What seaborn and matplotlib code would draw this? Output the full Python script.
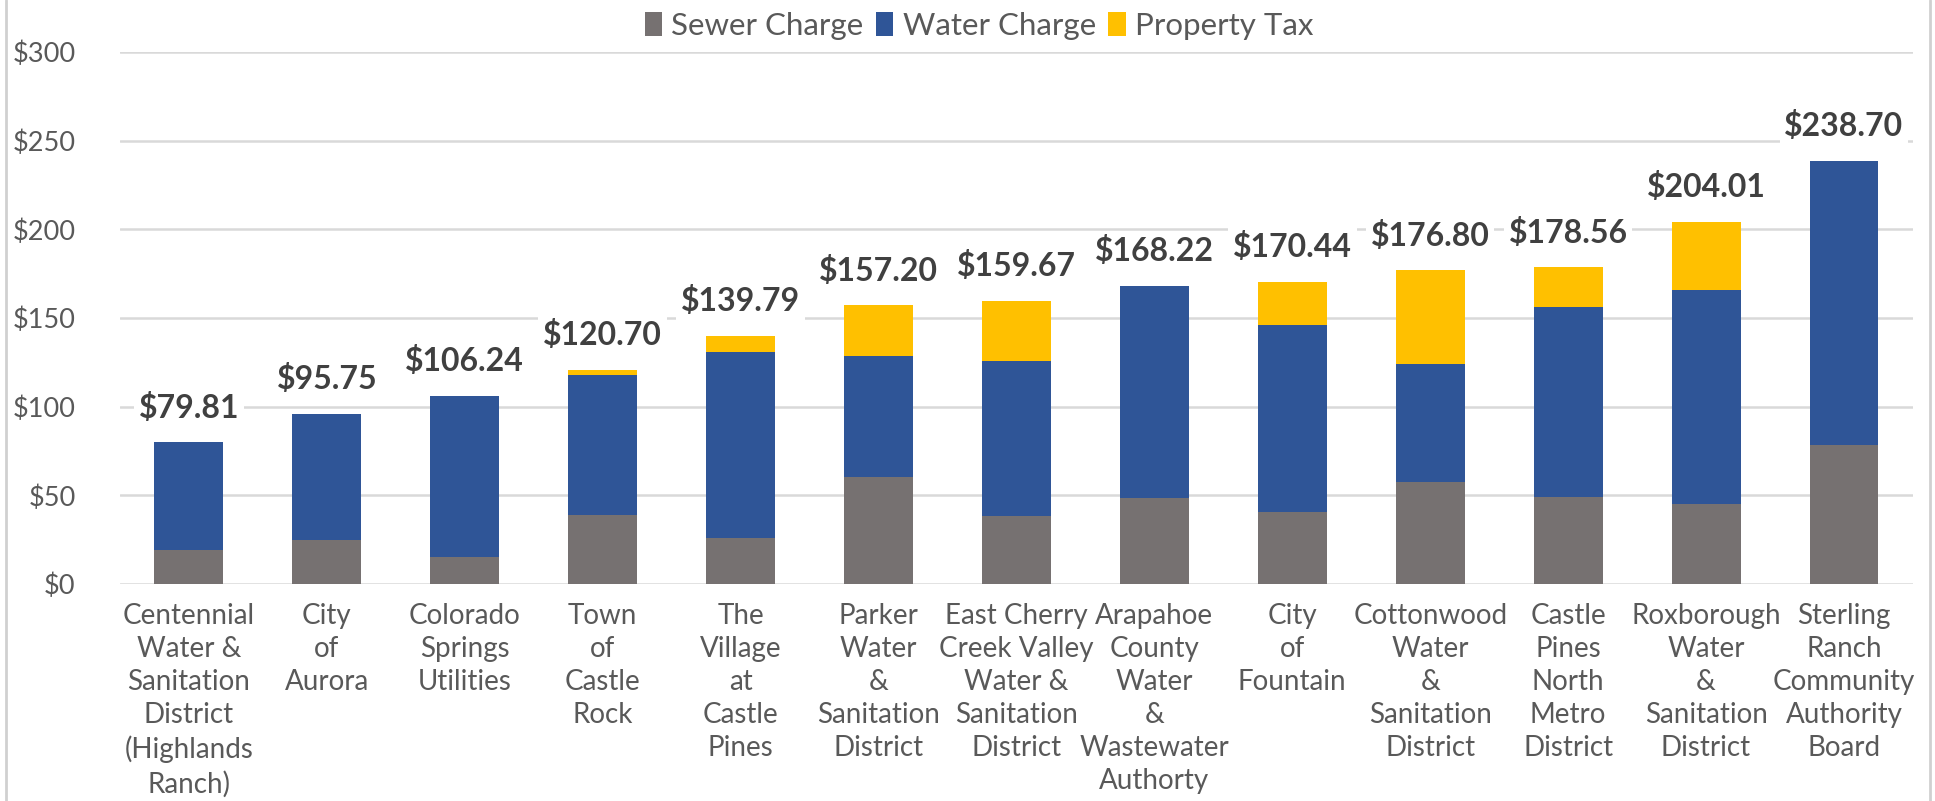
import matplotlib
matplotlib.use("Agg")
import matplotlib.pyplot as plt
import seaborn as sns
import pandas as pd
import numpy as np
from matplotlib.patches import Patch
from matplotlib.lines import Line2D

categories = [
    "Centennial\nWater &\nSanitation\nDistrict\n(Highlands\nRanch)",
    "City\nof\nAurora",
    "Colorado\nSprings\nUtilities",
    "Town\nof\nCastle\nRock",
    "The\nVillage\nat\nCastle\nPines",
    "Parker\nWater\n&\nSanitation\nDistrict",
    "East Cherry\nCreek Valley\nWater &\nSanitation\nDistrict",
    "Arapahoe\nCounty\nWater\n&\nWastewater\nAuthorty",
    "City\nof\nFountain",
    "Cottonwood\nWater\n&\nSanitation\nDistrict",
    "Castle\nPines\nNorth\nMetro\nDistrict",
    "Roxborough\nWater\n&\nSanitation\nDistrict",
    "Sterling\nRanch\nCommunity\nAuthority\nBoard",
]
sewer = [19.2, 24.6, 15.2, 38.7, 25.9, 60.2, 38.5, 48.3, 40.8, 57.5, 48.9, 45.3, 78.2]
water = [60.61, 71.15, 91.04, 79.2, 104.8, 68.4, 87.4, 119.92, 105.3, 66.6, 107.3, 120.3, 160.5]
tax = [0, 0, 0, 2.8, 9.09, 28.6, 33.77, 0, 24.34, 52.7, 22.36, 38.41, 0]
totals = [79.81, 95.75, 106.24, 120.70, 139.79, 157.20, 159.67, 168.22, 170.44, 176.80, 178.56, 204.01, 238.70]
yticks = [0, 50, 100, 150, 200, 250, 300]
series_names = ["Sewer Charge", "Water Charge", "Property Tax"]
colors = ["#767171", "#2F5597", "#FFC000"]

sns.set_theme(style="white")
plt.rcParams['font.family'] = ['Lato', 'DejaVu Sans']

df = pd.DataFrame({"cat": categories, "sewer": sewer, "water": water, "tax": tax})
df["sw"] = df["sewer"] + df["water"]
df["swt"] = df["sw"] + df["tax"]

fig = plt.figure(figsize=(19.35, 8.01), dpi=100)
ax = fig.add_axes([0.062, 0.2709, 0.9266, 0.6642])

for col, c in zip(["swt", "sw", "sewer"], [colors[2], colors[1], colors[0]]):
    sns.barplot(data=df, x="cat", y=col, color=c, width=0.5, ax=ax,
                saturation=1, linewidth=0, zorder=3, errorbar=None)

ax.set_ylim(0, 300)
ax.set_xlim(-0.5, len(categories) - 0.5)
ax.set_yticks(yticks)
ax.set_yticklabels([f"${v}" for v in yticks])
ax.yaxis.grid(True, color="#D9D9D9", linewidth=1.8, zorder=0)
ax.set_axisbelow(True)
for s in ax.spines.values():
    s.set_visible(False)
ax.set_xlabel("")
ax.set_ylabel("")
ax.tick_params(axis="y", length=0, pad=32, labelsize=19.5, labelcolor="#595959")
ax.tick_params(axis="x", length=0, pad=14, labelsize=20, labelcolor="#595959")
for lab in ax.get_xticklabels():
    lab.set_linespacing(1.33)

for i, t in enumerate(totals):
    ax.annotate(f"${t:.2f}", xy=(i, t), xytext=(0, 25), textcoords="offset points",
                ha="center", va="center", fontsize=23, fontweight="bold", color="#404040",
                bbox=dict(boxstyle="square,pad=0.15", fc="white", ec="none"), zorder=5)

handles = [Patch(facecolor=c, edgecolor="none") for c in colors]
fig.legend(handles, series_names, loc="center", bbox_to_anchor=(0.506, 0.968), ncol=3,
           frameon=False, fontsize=22.5, labelcolor="#595959", handlelength=0.55,
           handleheight=0.8, handletextpad=0.3, columnspacing=0.4)

fig.add_artist(Line2D([6/1935, 6/1935], [0, 1], transform=fig.transFigure, color="#D0D0D0", lw=2))
fig.add_artist(Line2D([1930/1935, 1930/1935], [0, 1], transform=fig.transFigure, color="#D0D0D0", lw=2))

fig.savefig("out.png", dpi=100)
